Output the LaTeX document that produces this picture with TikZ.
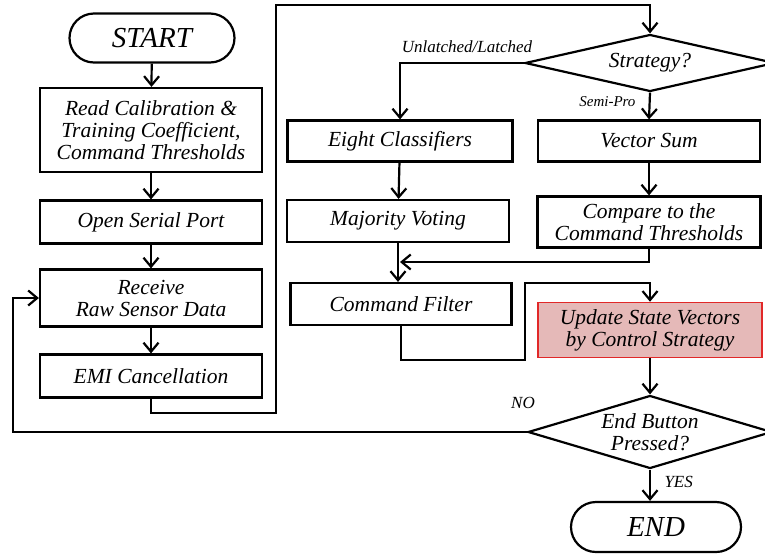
\documentclass[tikz,border=0pt]{standalone}
\usepackage{fontspec}
\setmainfont{Liberation Serif}
\usetikzlibrary{arrows.meta,shapes.misc,shapes.geometric}
\definecolor{pinkfill}{RGB}{229,185,184}
\definecolor{redline}{RGB}{225,40,40}
\tikzset{
  box/.style={draw, line width=2.2pt, inner sep=0pt, align=center, font=\fontsize{21.5}{22}\selectfont\itshape},
  term/.style={draw, line width=2.2pt, rounded rectangle, inner sep=0pt, font=\fontsize{29}{30}\selectfont\itshape},
  decide/.style={draw, line width=2.2pt, diamond, inner sep=0pt, align=center, font=\fontsize{21.5}{22}\selectfont\itshape},
  flow/.style={line width=2.2pt, -{Straight Barb[length=9pt,width=15pt,line width=2.2pt]}},
  lbl/.style={font=\fontsize{17}{18}\selectfont\itshape}
}
\begin{document}
\begin{tikzpicture}[x=1pt,y=-1pt]
\useasboundingbox (0,0) rectangle (765,555);
% left column
\node[term, minimum width=165, minimum height=49] (start) at (152,38) {START};
\node[box, minimum width=222, minimum height=84] (read) at (151,130) {Read Calibration \&\\Training Coefficient,\\Command Thresholds};
\node[box, minimum width=222, minimum height=43] (open) at (151,222) {Open Serial Port};
\node[box, minimum width=222, minimum height=57] (recv) at (151,298) {Receive\\Raw Sensor Data};
\node[box, minimum width=222, minimum height=43] (emi) at (151,376) {EMI Cancellation};
% right part
\node[decide, aspect=4.4, minimum width=250, minimum height=57] (strat) at (650,63) {Strategy?};
\node[box, minimum width=225, minimum height=41] (eight) at (400,141) {Eight Classifiers};
\node[box, minimum width=222, minimum height=41] (vsum) at (649,141) {Vector Sum};
\node[box, minimum width=222, minimum height=42] (major) at (398,221) {Majority Voting};
\node[box, minimum width=223, minimum height=51] (compare) at (649,222) {Compare to the\\Command Thresholds};
\node[box, minimum width=221, minimum height=42] (filter) at (401,304) {Command Filter};
\node[box, draw=redline, line width=1.5pt, fill=pinkfill, minimum width=224, minimum height=55] (update) at (650,330) {Update State Vectors\\by Control Strategy};
\node[decide, aspect=3.3, minimum width=244, minimum height=73] (endq) at (650,432) {End Button\\Pressed?};
\node[term, minimum width=170, minimum height=50] (end) at (656,527) {END};
% coordinates
\coordinate (e1) at (151,413);
\coordinate (e2) at (276,413);
\coordinate (e3) at (276,5);
\coordinate (e4) at (650,5);
\coordinate (s1) at (400,63);
\coordinate (c1) at (649,262);
\coordinate (m) at (400,262);
\coordinate (f1) at (401,360);
\coordinate (f2) at (525,360);
\coordinate (f3) at (525,283);
\coordinate (f4) at (650,283);
\coordinate (n1) at (13,432);
\coordinate (n2) at (13,298);
% connectors
\draw[flow] (start) -- (read);
\draw[flow] (read) -- (open);
\draw[flow] (open) -- (recv);
\draw[flow] (recv) -- (emi);
\draw[flow] (emi.south) -- (e1) -- (e2) -- (e3) -- (e4) -- (strat.north);
\draw[flow] (strat.west) -- (s1) -- (eight.north);
\draw[flow] (strat.south) -- (vsum.north);
\draw[flow] (eight) -- (major);
\draw[flow] (vsum) -- (compare);
\draw[flow] (major.south) -- (major.south |- filter.north);
\draw[flow] (compare.south) -- (c1) -- (m);
\draw[flow] (filter.south) -- (f1) -- (f2) -- (f3) -- (f4) -- (update.north);
\draw[flow] (update) -- (endq);
\draw[flow] (endq.west) -- (n1) -- (n2) -- (recv.west);
\draw[flow] (endq.south) -- (endq.south |- end.north);
% labels
\node[lbl] (l1) at (467,47) {Unlatched/Latched};
\node[lbl, font=\fontsize{15}{16}\selectfont\itshape, anchor=east] (l2) at (639,102) {Semi-Pro};
\node[lbl] (l3) at (523,403) {NO};
\node[lbl, anchor=west] (l4) at (661,482) {YES};
\end{tikzpicture}
\end{document}
